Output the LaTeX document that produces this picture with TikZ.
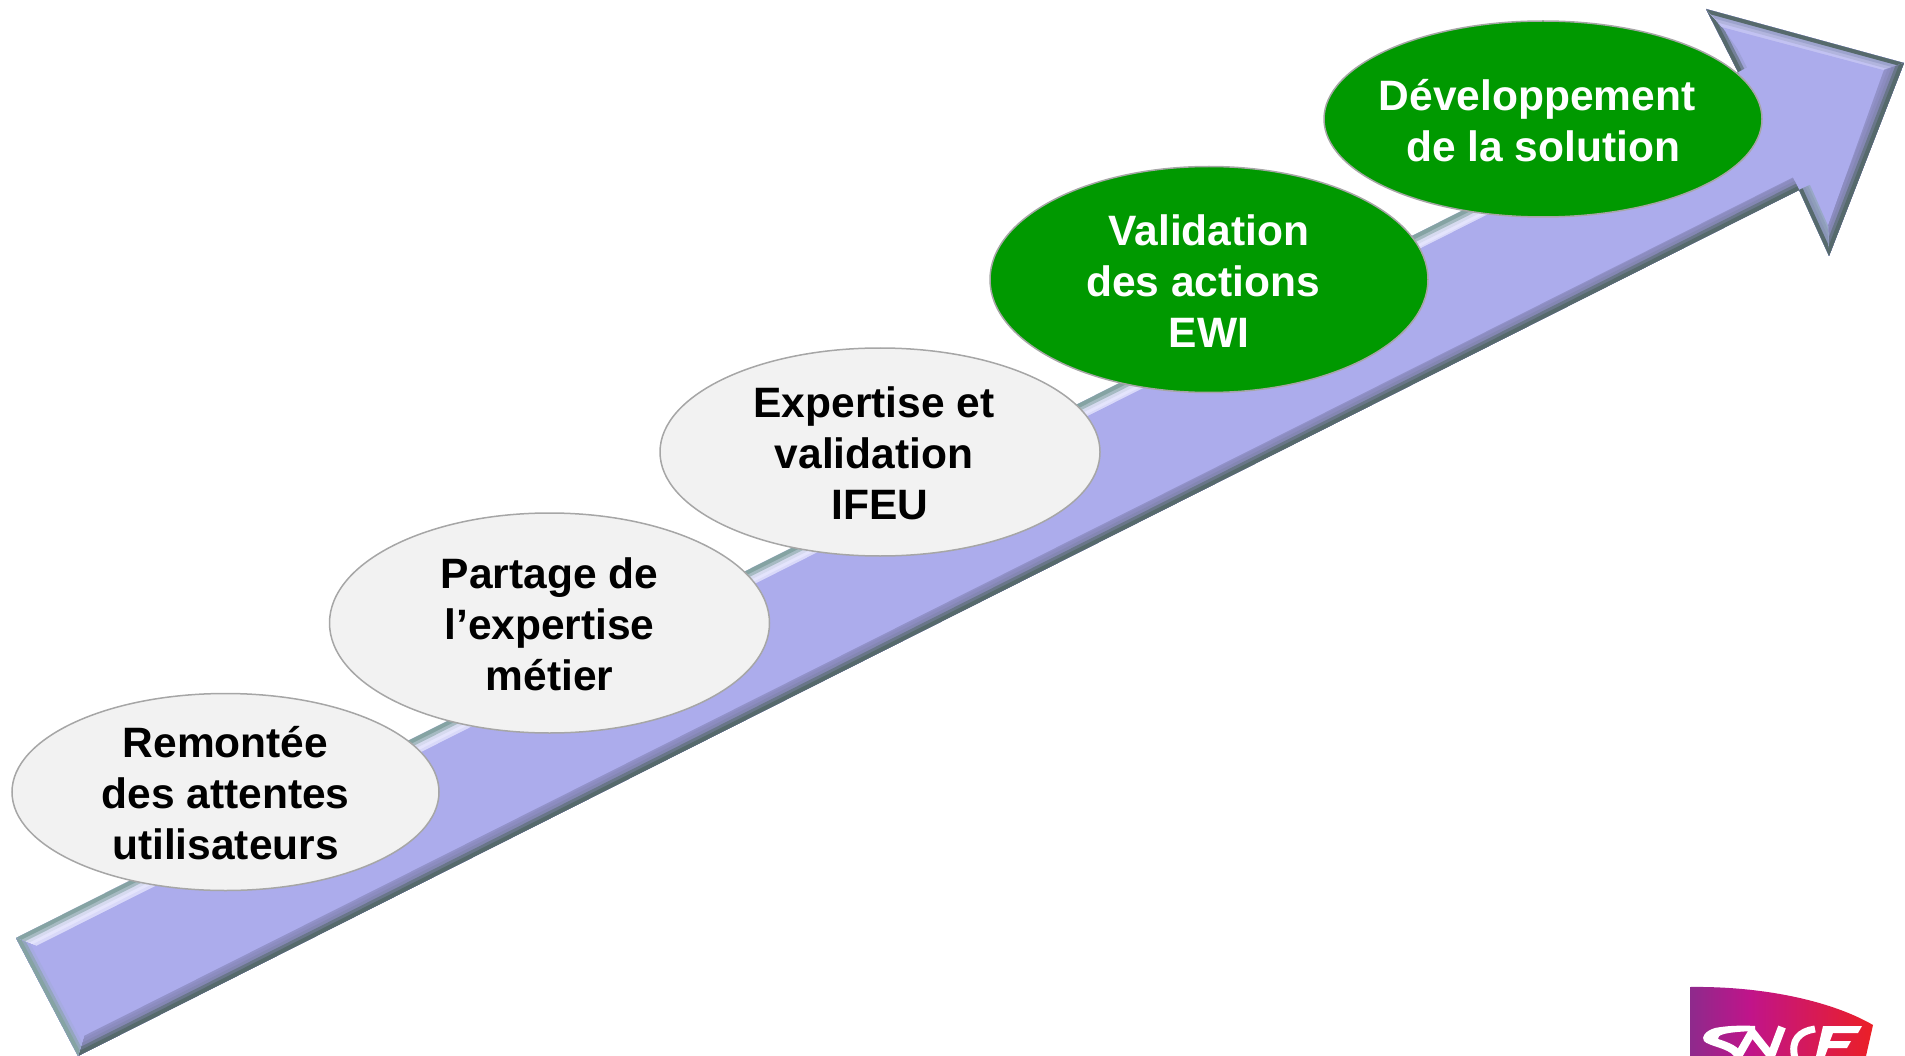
\documentclass[tikz,border=0pt]{standalone}
\usepackage{fontspec}
\setmainfont{Liberation Sans}
\usetikzlibrary{shapes.geometric}
\definecolor{arrowfill}{HTML}{ACACEC}
\definecolor{bevA}{HTML}{566A6C}
\definecolor{bevC}{HTML}{8C8CC0}
\definecolor{hiA}{HTML}{85A3A3}
\definecolor{hiB}{HTML}{E4E4FC}
\definecolor{ovalgrey}{HTML}{F2F2F2}
\definecolor{ovalgreen}{HTML}{009900}
\definecolor{ovaledge}{HTML}{A6A6A6}
\definecolor{logoA}{HTML}{8E2A8C}
\definecolor{logoB}{HTML}{C0148A}
\definecolor{logoC}{HTML}{EC2024}
\tikzset{
  x=1pt,y=-1pt,
  oval/.style={ellipse,draw=ovaledge,line width=1.5pt,inner sep=0pt},
  greyoval/.style={oval,fill=ovalgrey},
  greenoval/.style={oval,fill=ovalgreen},
  caption/.style={align=center,inner sep=0pt,yshift=-1.2pt,
    font=\fontsize{42.5}{51}\selectfont\bfseries},
  logoletter/.style={draw=white,line width=8pt,line join=round},
}
% \shadefacet{a}{b}{inner b}{inner a}{outer colour}{middle colour}{inner colour}
\newcommand{\shadefacet}[7]{%
  \begin{scope}
    \clip #1 -- #2 -- #3 -- #4 -- cycle;
    \fill[#7] #1 -- #2 -- #3 -- #4 -- cycle;
    \foreach \w/\c in {22/#7,19/#6!40!#7,16/#6!80!#7,13/#6,10/#6!85!#5,7/#5!65!#6,4/#5}{
      \draw[line width=2*\w pt,color=\c] #1 -- #2;
    }
  \end{scope}}
\begin{document}
\begin{tikzpicture}
\useasboundingbox (0,0) rectangle (1905,1056);
% outer outline
\coordinate (o1) at (16,938);
\coordinate (o2) at (1738,72);
\coordinate (o3) at (1706,9);
\coordinate (o4) at (1904,63);
\coordinate (o5) at (1829,256);
\coordinate (o6) at (1799,190);
\coordinate (o7) at (78,1056);
% inner bevel outline
\coordinate (i1) at (36,946);
\coordinate (i2) at (1758,78);
\coordinate (i3) at (1722,27);
\coordinate (i4) at (1884,70);
\coordinate (i5) at (1828,226);
\coordinate (i6) at (1804,172);
\coordinate (i7) at (84,1036);
\fill[arrowfill] (o1)--(o2)--(o3)--(o4)--(o5)--(o6)--(o7)--cycle;
\shadefacet{(o1)}{(o2)}{(i2)}{(i1)}{hiA}{hiB}{arrowfill}
\shadefacet{(o2)}{(o3)}{(i3)}{(i2)}{bevA}{arrowfill}{arrowfill}
\shadefacet{(o3)}{(o4)}{(i4)}{(i3)}{bevA}{hiB!40!arrowfill}{arrowfill}
\shadefacet{(o4)}{(o5)}{(i5)}{(i4)}{bevA}{bevC}{arrowfill}
\shadefacet{(o5)}{(o6)}{(i6)}{(i5)}{bevA}{hiA!50!arrowfill}{arrowfill}
\shadefacet{(o6)}{(o7)}{(i7)}{(i6)}{bevA}{bevC}{arrowfill}
\shadefacet{(o7)}{(o1)}{(i1)}{(i7)}{hiA}{arrowfill}{arrowfill}
% ovals
\node[greyoval,minimum width=427pt,minimum height=197pt] (n1) at (225.5,792) {};
\node[greyoval,minimum width=440pt,minimum height=220pt] (n2) at (549.5,623) {};
\node[greyoval,minimum width=440pt,minimum height=208pt] (n3) at (880,452) {};
\node[greenoval,minimum width=438pt,minimum height=226pt] (n4) at (1209,279.5) {};
\node[greenoval,minimum width=438pt,minimum height=196pt] (n5) at (1543,119) {};
\node[caption] (t1) at (n1.center) {Remontée\\des attentes\\utilisateurs};
\node[caption] (t2) at (n2.center) {Partage de\\l’expertise\\métier};
\node[caption,text=black] (t3) at (n3.center) {Expertise et~\mbox{}\\validation~\mbox{}\\IFEU};
\node[caption,text=white] (t4) at (n4.center) {Validation\\des actions~\mbox{}\\EWI};
\node[caption,text=white] (t5) at (n5.center) {Développement~\mbox{}\\de la solution};
% logo
\begin{scope}
  \clip (1690,987) .. controls (1760,986) and (1830,1000) .. (1873,1025) -- (1866,1056) -- (1690,1056) -- cycle;
  \shade[left color=logoA,right color=logoB] (1690,980) rectangle (1750,1060);
  \shade[left color=logoB,right color=logoC] (1749.5,980) rectangle (1875,1060);
  % S
  \fill[white] (1755,1026) .. controls (1740,1025) and (1725,1026) .. (1715,1028)
     .. controls (1705,1031) and (1701,1037) .. (1704,1041)
     .. controls (1708,1046) and (1728,1048) .. (1734,1056)
     -- (1743,1056) .. controls (1741,1047) and (1728,1042) .. (1718,1039)
     .. controls (1717,1035) and (1724,1032) .. (1755,1031) -- cycle;
  % N
  \draw[logoletter] (1737,1058) -- (1752,1032) -- (1771,1056) -- (1782,1027);
  % C
  \draw[logoletter,line width=7pt] (1815,1029) .. controls (1800,1031) and (1790,1040) .. (1795,1058);
  % F
  \fill[white] (1823,1026) -- (1862,1026) -- (1858,1033) -- (1833,1033) -- (1830,1041) -- (1851,1041) -- (1847,1048) -- (1828,1048) -- (1825,1056) -- (1816,1056) -- cycle;
\end{scope}
\end{tikzpicture}
\end{document}
